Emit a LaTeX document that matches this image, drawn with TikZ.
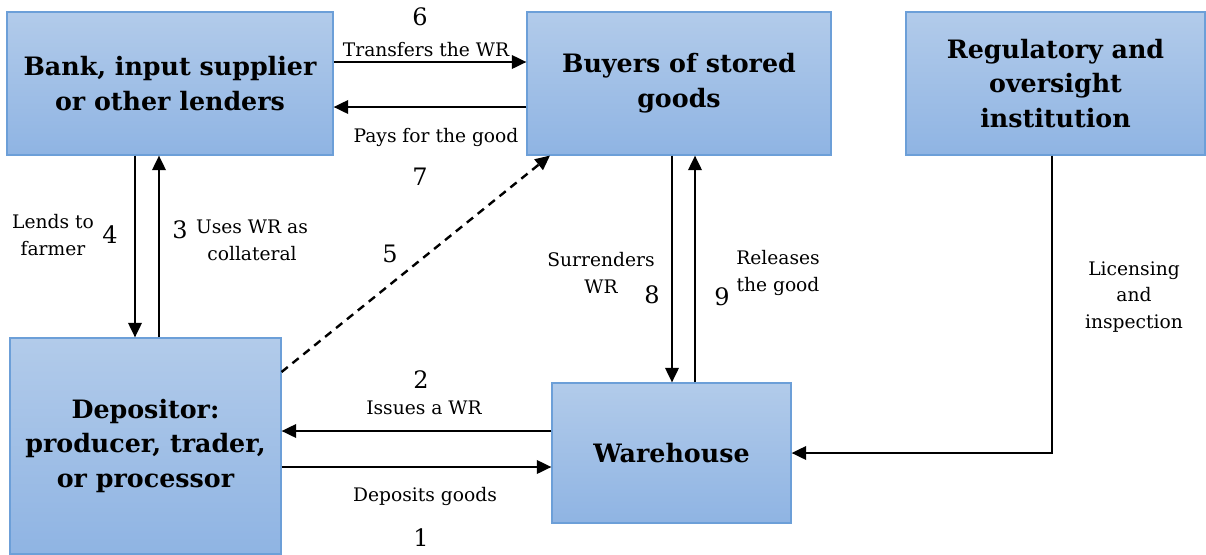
\documentclass[tikz,border=0pt]{standalone}
\usepackage{fontspec}
\setmainfont{DejaVu Serif}
\usetikzlibrary{arrows.meta}
\definecolor{boitehaut}{RGB}{178,203,234}
\definecolor{boitebas}{RGB}{143,180,227}
\definecolor{boitebord}{RGB}{108,159,216}
\begin{document}
\begin{tikzpicture}[x=0.75pt, y=-0.75pt,
                  boite/.style={draw=boitebord, line width=0.8pt, top color=boitehaut,
                                bottom color=boitebas, align=center, inner sep=0pt,
                                font=\fontsize{19}{26}\selectfont\bfseries},
                  fleche/.style={line width=2pt, -{Triangle[length=11pt,width=10pt]}},
                  texte/.style={align=center, font=\fontsize{14}{20}\selectfont},
                  chiffre/.style={font=\fontsize{18}{22}\selectfont}]
\useasboundingbox (0,0) rectangle (1206,554);
\node[boite, minimum width=244.5pt, minimum height=107.25pt] (banque) at (170,83.5)
  {Bank, input supplier\\or other lenders};
\node[boite, minimum width=228pt, minimum height=107.25pt] (acheteurs) at (679,83.5)
  {Buyers of stored\\goods};
\node[boite, minimum width=224.25pt, minimum height=107.25pt] (regul) at (1055.5,83.5)
  {Regulatory and\\oversight\\institution};
\node[boite, minimum width=203.25pt, minimum height=162pt] (deposant) at (145.5,446)
  {Depositor:\\producer, trader,\\or processor};
\node[boite, minimum width=179.25pt, minimum height=105pt] (entrepot) at (671.5,453)
  {Warehouse};
% fleches
\draw[fleche] (banque.east |- 0,62) -- (acheteurs.west |- 0,62);
\draw[fleche] (acheteurs.west |- 0,107) -- (banque.east |- 0,107);
\draw[fleche] (banque.south -| 135,0) -- (deposant.north -| 135,0);
\draw[fleche] (deposant.north -| 159,0) -- (banque.south -| 159,0);
\draw[fleche, line width=1.8pt, dash pattern=on 6pt off 4.5pt] (deposant.east |- 0,372) -- (acheteurs.south west -| 550,0);
\draw[fleche] (acheteurs.south -| 672,0) -- (entrepot.north -| 672,0);
\draw[fleche] (entrepot.north -| 695,0) -- (acheteurs.south -| 695,0);
\draw[fleche] (entrepot.west |- 0,431) -- (deposant.east |- 0,431);
\draw[fleche] (deposant.east |- 0,467) -- (entrepot.west |- 0,467);
\draw[fleche] (regul.south -| 1052,0) |- (entrepot.east);
% textes
\node[texte] (transfere) at (426,50) {Transfers the WR};
\node[texte] (paie) at (436,137) {Pays for the good};
\node[texte] (prete) at (53,235) {Lends to\\farmer};
\node[texte] (garantie) at (252,240) {Uses WR as\\collateral};
\node[texte] (rend) at (601,273) {Surrenders\\WR};
\node[texte] (libere) at (778,273) {Releases\\the good};
\node[texte] (licence) at (1134,297) {Licensing\\and\\inspection};
\node[texte] (emet) at (424,408) {Issues a WR};
\node[texte] (depose) at (425,496) {Deposits goods};
\foreach \n/\x/\y in {1/421/538, 2/421/380, 3/180/230, 4/110/235, 5/390/254,
                      6/420/17, 7/420/177, 8/652/295, 9/722/297}
  \node[chiffre] (n\n) at (\x,\y) {\n};
\end{tikzpicture}
\end{document}
